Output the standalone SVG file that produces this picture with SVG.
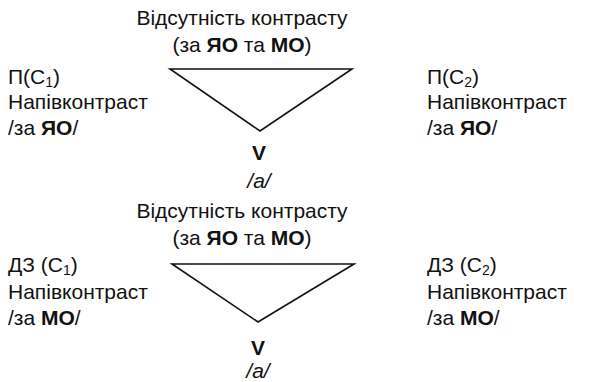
<svg xmlns="http://www.w3.org/2000/svg" width="589" height="382" viewBox="0 0 589 382">
  <style>
    text { font-family: "Liberation Sans", Arial, sans-serif; font-size: 21px; fill: #111; }
    .c { text-anchor: middle; }
    .b { font-weight: bold; }
    .i { font-style: italic; }
    .sub { font-size: 14px; }
    .tri { fill: none; stroke: #111; stroke-width: 1.6; stroke-linejoin: miter; }
  </style>

  <!-- upper block: overall lack of contrast -->
  <g id="top-none">
    <text class="c" x="242" y="25">Відсутність контрасту</text>
    <text class="c" x="242" y="52">(за <tspan class="b">ЯО</tspan> та <tspan class="b">МО</tspan>)</text>
  </g>

  <g id="p-c1">
    <text x="8" y="84">П(C<tspan class="sub" dy="3">1</tspan><tspan dy="-3">)</tspan></text>
    <text x="8" y="109">Напівконтраст</text>
    <text x="8" y="135">/за <tspan class="b">ЯО</tspan>/</text>
  </g>

  <g id="p-c2">
    <text x="427" y="84">П(C<tspan class="sub" dy="3">2</tspan><tspan dy="-3">)</tspan></text>
    <text x="427" y="109">Напівконтраст</text>
    <text x="427" y="135">/за <tspan class="b">ЯО</tspan>/</text>
  </g>

  <g id="v-a-1">
    <text class="c b" x="259" y="160">V</text>
    <text class="c i" x="259" y="188">/a/</text>
  </g>

  <!-- lower block -->
  <g id="mid-none">
    <text class="c" x="242" y="218">Відсутність контрасту</text>
    <text class="c" x="242" y="245">(за <tspan class="b">ЯО</tspan> та <tspan class="b">МО</tspan>)</text>
  </g>

  <g id="dz-c1">
    <text x="8" y="272">ДЗ (C<tspan class="sub" dy="3">1</tspan><tspan dy="-3">)</tspan></text>
    <text x="8" y="299">Напівконтраст</text>
    <text x="8" y="325">/за <tspan class="b">МО</tspan>/</text>
  </g>

  <g id="dz-c2">
    <text x="427" y="272">ДЗ (C<tspan class="sub" dy="3">2</tspan><tspan dy="-3">)</tspan></text>
    <text x="427" y="299">Напівконтраст</text>
    <text x="427" y="325">/за <tspan class="b">МО</tspan>/</text>
  </g>

  <g id="v-a-2">
    <text class="c b" x="258" y="355">V</text>
    <text class="c i" x="258" y="378">/a/</text>
  </g>

  <!-- neutralisation triangles -->
  <g id="connectors">
    <polygon class="tri" points="170,69 352,69 260,131"/>
    <polygon class="tri" points="172,264 354,264 258,322"/>
  </g>
</svg>
